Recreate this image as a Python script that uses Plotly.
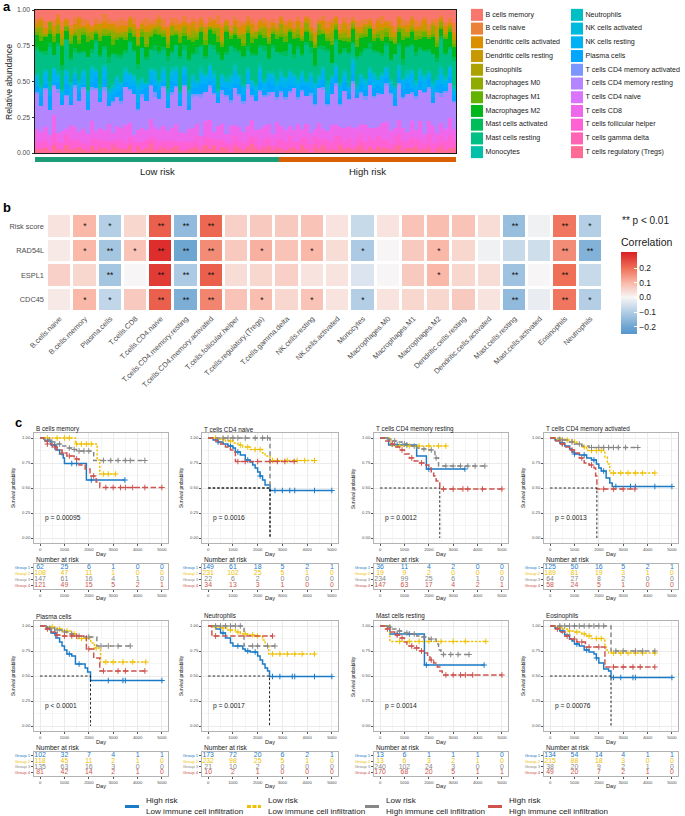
import math
import plotly.graph_objects as go

W, H = 685, 816
FONT = 'Liberation Sans, Arial, sans-serif'

# ---------------- Panel a data (per-sample relative abundance, %) ----------------
RISK_GROUPS = ['Low risk', 'High risk']
RISK_COUNTS = [58, 42]

b_cells_memory = [6,4,9,5,7,3,8,6,10,5, 4,7,6,11,5,8,3,6,9,7,
                  5,8,4,6,12,7,5,9,6,4, 7,10,5,6,8,4,9,6,7,5,
                  8,5,7,3,9,6,11,5,7,8, 4,6,10,7,5,8,6,9,4,7,
                  6,9,5,8,4,7,12,6,5,8, 7,4,9,6,10,5,7,8,6,5,
                  9,6,4,8,7,11,5,6,9,4, 8,7,5,10,6,7,4,8,6,9]
b_cells_naive = [3,2,5,1,4,3,6,2,3,4, 2,5,3,1,4,2,6,3,2,4,
                 5,3,2,4,1,3,5,2,4,3, 6,2,3,5,2,4,1,3,5,2,
                 3,4,2,6,3,1,4,3,5,2, 4,3,6,2,3,5,2,4,1,3,
                 2,5,3,4,2,6,3,2,4,5, 3,1,4,3,5,2,4,6,3,2,
                 4,3,5,2,3,4,1,5,3,2, 6,3,2,4,3,5,2,3,4,7]
dc_activated = [2,1,3,0,2,4,1,2,3,1, 5,2,1,3,2,0,4,2,1,3,
                2,3,1,2,6,1,2,3,0,2, 1,4,2,1,3,2,5,1,2,3,
                0,2,3,1,4,2,1,3,2,5, 1,2,0,3,2,4,1,2,3,1,
                3,1,2,4,1,2,3,0,5,2, 2,3,1,2,4,1,3,2,0,2,
                1,4,2,3,1,2,5,1,3,2, 2,1,3,2,0,4,2,3,1,2]
dc_resting = [1,3,2,0,2,1,4,2,1,3, 2,0,3,1,2,5,1,2,3,1,
              2,1,4,2,0,3,1,2,2,4, 1,2,0,3,2,1,2,4,1,2,
              3,1,2,1,5,2,0,2,3,1, 2,4,1,2,1,3,2,0,2,3,
              1,2,3,1,2,0,4,2,1,2, 3,2,1,4,2,1,0,3,2,1,
              2,3,1,2,4,1,2,0,3,2, 1,2,3,1,2,5,1,2,0,3]
eosinophils = [0,1,0,0,1,0,2,0,0,1, 0,0,1,0,0,1,0,0,2,0,
               1,0,0,1,0,0,0,1,0,0, 0,2,0,0,1,0,0,1,0,0,
               1,0,0,0,1,0,1,0,0,0, 0,1,0,2,0,0,1,0,0,1,
               0,0,1,0,0,1,0,0,1,0, 2,0,0,1,0,0,1,0,0,0,
               0,1,0,0,2,0,0,1,0,1, 0,0,1,0,0,1,0,0,2,0]
macrophages_m0 = [3,5,1,4,2,6,3,1,4,2, 7,3,2,5,1,3,4,2,6,3,
                  2,4,1,3,5,2,8,3,1,4, 3,2,5,1,3,4,2,6,3,2,
                  4,1,3,5,2,3,1,4,2,6, 3,2,4,1,5,3,2,3,7,2,
                  1,4,3,2,5,3,1,4,2,3, 6,2,3,4,1,3,5,2,4,1,
                  3,2,6,3,1,4,2,5,3,2, 4,3,1,2,5,3,4,2,1,3]
macrophages_m1 = [2,3,1,2,4,1,2,3,2,1, 3,2,4,1,2,3,1,2,5,2,
                  1,2,3,2,1,4,2,1,3,2, 2,3,1,2,4,2,1,3,2,1,
                  3,1,2,4,2,1,3,2,1,2, 2,4,1,3,2,2,1,3,2,4,
                  1,2,3,1,2,4,2,3,1,2, 3,2,1,2,3,1,4,2,2,1,
                  2,3,1,4,2,1,2,3,2,1, 3,2,4,1,2,3,1,2,3,2]
macrophages_m2 = [8,6,11,5,9,7,13,6,10,8, 5,12,9,7,4,10,8,14,6,9,
                  11,7,5,9,13,8,6,10,7,12, 8,5,10,7,9,6,13,8,4,10,
                  7,11,9,6,8,14,5,10,8,7, 9,6,12,8,5,10,7,9,11,6,
                  8,12,6,9,7,5,11,8,10,6, 13,7,9,5,8,10,6,12,7,9,
                  6,10,8,5,11,7,9,13,6,8, 10,5,9,7,12,8,6,9,11,7]
mast_activated = [2,1,3,2,0,2,4,1,2,3, 1,2,0,3,2,1,2,4,1,2,
                  3,2,1,2,3,0,2,1,4,2, 2,3,1,0,2,3,1,2,5,1,
                  2,1,3,2,1,2,0,3,2,1, 4,2,1,2,3,1,2,0,2,3,
                  1,3,2,1,2,4,1,2,3,2, 0,2,1,3,2,1,2,3,1,4,
                  2,1,2,3,1,0,2,4,2,1, 3,2,1,2,0,3,2,1,2,3]
mast_resting = [15,20,11,17,9,19,13,22,14,10, 18,12,21,9,16,19,11,17,23,12,
                15,10,19,16,8,21,13,15,11,20, 12,18,9,15,22,11,19,13,17,14,
                9,13,18,21,10,15,20,8,14,18, 11,16,22,12,18,9,15,20,10,14,
                16,12,19,10,24,14,11,17,13,20, 9,15,18,12,21,10,16,14,19,11,
                13,19,10,16,12,22,14,9,17,15, 20,11,16,13,18,10,21,14,12,17]
monocytes = [1,2,1,3,0,2,1,2,1,3, 2,1,0,2,1,3,2,1,2,1,
             0,2,1,1,3,2,1,0,2,1, 2,1,3,1,2,0,1,2,1,3,
             1,2,2,1,0,3,1,2,1,2, 1,0,2,3,1,2,1,1,2,0,
             2,1,3,1,2,1,0,2,1,3, 1,2,1,2,4,1,2,1,0,2,
             1,3,1,2,1,0,2,1,3,1, 2,1,2,0,1,3,1,2,1,2]
neutrophils = [1,0,1,2,0,1,1,0,2,1, 0,1,1,0,2,1,0,1,1,0,
               2,1,0,1,1,2,0,1,0,1, 1,2,0,1,0,1,2,1,0,1,
               1,0,2,1,1,0,1,3,1,0, 1,1,0,2,1,0,1,1,2,1,
               0,1,1,2,0,1,0,1,1,2, 1,0,1,1,0,2,1,0,1,1,
               2,0,1,0,1,1,2,0,1,0, 1,1,0,1,2,0,1,1,0,1]
nk_activated = [2,1,3,0,2,1,2,4,1,0, 2,3,1,2,0,1,3,2,1,2,
                0,2,1,3,2,1,0,2,5,1, 2,1,3,2,0,1,2,3,1,2,
                1,3,2,0,2,1,4,1,2,0, 2,1,3,2,1,0,2,3,1,2,
                3,1,2,1,0,2,3,1,2,4, 1,2,0,3,1,2,1,2,3,1,
                2,0,1,3,2,1,2,0,3,2, 1,3,2,1,2,0,4,1,2,1]
nk_resting = [5,4,7,3,8,5,4,6,9,3, 4,7,5,8,3,5,6,4,5,8,
              3,5,7,4,9,5,3,6,4,5, 7,4,3,8,5,4,6,5,3,7,
              4,8,5,3,6,4,5,10,4,5, 6,3,5,8,4,6,5,3,7,4,
              5,7,4,6,3,8,5,4,7,5, 3,6,9,4,5,7,4,6,3,5,
              6,4,8,5,3,6,5,7,4,9, 5,3,6,4,7,5,8,4,6,3]
plasma_cells = [4,6,3,7,2,5,4,8,3,5, 6,2,5,4,7,3,6,4,5,3,
                7,4,2,6,5,3,8,4,5,6, 3,5,7,2,4,6,3,5,4,7,
                5,3,6,4,2,5,7,3,6,4, 2,5,4,6,3,7,4,5,3,6,
                4,2,5,3,7,4,6,2,5,3, 8,4,3,6,4,5,2,7,4,3,
                5,6,3,4,2,6,4,5,9,3, 4,6,2,5,3,4,7,3,5,4]
cd4_memory_activated = [1,0,2,0,1,3,0,1,0,2, 0,1,0,2,1,0,3,0,1,0,
                        2,0,1,0,1,2,0,1,3,0, 1,0,2,1,0,1,0,2,1,3,
                        0,2,1,0,3,1,2,0,1,2, 3,1,0,2,1,3,0,2,1,2,
                        1,0,2,1,0,2,1,0,3,1, 0,2,1,0,1,2,0,1,2,0,
                        2,1,0,3,1,0,2,1,0,1, 2,0,1,2,0,1,3,1,0,2]
cd4_memory_resting = [24,16,28,13,20,30,18,25,14,26, 21,31,15,23,27,18,29,12,24,19,
                      16,26,21,30,14,23,18,27,19,24, 29,15,21,26,18,31,13,23,19,27,
                      18,24,30,14,21,26,16,28,22,19, 26,15,22,29,18,21,27,16,24,19,
                      22,33,17,25,20,28,15,24,30,18, 23,27,14,26,21,32,19,25,16,28,
                      20,26,18,29,23,15,27,21,31,17, 25,19,28,22,16,30,20,24,26,18]
cd4_naive = [0,0,1,0,0,0,0,1,0,0, 0,0,0,0,1,0,0,0,0,0,
             0,1,0,0,0,0,0,0,1,0, 0,0,0,1,0,0,0,0,0,0,
             1,0,0,0,0,0,1,0,0,0, 0,0,0,0,1,0,0,0,0,1,
             0,0,1,0,0,0,0,0,1,0, 0,1,0,0,0,0,1,0,0,0,
             0,0,0,1,0,0,0,0,0,1, 0,0,1,0,0,0,0,1,0,0]
cd8 = [8,6,10,5,12,7,9,4,11,8, 6,10,7,13,5,9,8,11,6,10,
       7,12,9,5,8,10,6,14,7,9, 11,6,8,12,7,5,9,10,8,6,
       10,13,7,9,11,6,12,8,10,7, 9,11,6,13,8,10,7,12,9,8,
       7,9,12,6,10,8,5,11,9,7, 13,8,6,10,9,12,7,8,11,6,
       9,7,10,14,8,6,11,9,7,10, 8,12,6,9,11,7,10,8,13,7]
tfh = [5,4,6,3,7,5,4,8,5,6, 4,5,3,6,7,4,5,6,3,5,
       6,4,5,7,3,6,5,4,8,5, 4,6,5,3,5,7,4,5,6,4,
       5,7,4,6,5,3,6,8,4,5, 6,5,7,4,5,6,3,5,7,5,
       7,5,6,4,8,6,5,7,4,6, 5,9,6,5,7,4,6,8,5,6,
       6,8,5,7,4,6,9,5,6,7, 5,6,4,8,6,5,7,6,10,5]
gamma_delta = [0,1,0,0,2,0,1,0,0,1, 0,0,1,0,0,2,0,0,1,0,
               1,0,0,0,1,0,0,2,0,0, 1,0,0,0,1,0,0,0,2,0,
               0,1,0,0,0,1,0,0,1,0, 0,0,2,0,1,0,0,1,0,0,
               1,0,0,1,0,0,2,0,0,1, 0,1,0,0,1,0,0,2,0,0,
               0,0,1,0,0,2,0,1,0,0, 1,0,0,1,0,0,1,0,0,2]
tregs = [3,2,4,1,5,3,2,6,3,2, 4,3,1,5,2,3,4,2,6,3,
         2,3,5,1,4,2,3,7,2,3, 4,2,3,5,2,1,3,4,3,2,
         5,3,6,2,4,3,1,5,3,2, 4,6,3,2,3,5,2,4,3,2,
         3,4,2,5,3,1,4,3,6,2, 3,2,5,3,4,2,3,6,2,4,
         2,5,3,4,2,3,6,2,4,3, 5,2,3,4,1,3,5,2,4,3]

CELL_LABELS = ['B cells memory', 'B cells naive', 'Dendritic cells activated', 'Dendritic cells resting',
               'Eosinophils', 'Macrophages M0', 'Macrophages M1', 'Macrophages M2', 'Mast cells activated',
               'Mast cells resting', 'Monocytes', 'Neutrophils', 'NK cells activated', 'NK cells resting',
               'Plasma cells', 'T cells CD4 memory activated', 'T cells CD4 memory resting', 'T cells CD4 naive',
               'T cells CD8', 'T cells follicular helper', 'T cells gamma delta', 'T cells regulatory (Tregs)']
ABUND = [b_cells_memory, b_cells_naive, dc_activated, dc_resting, eosinophils, macrophages_m0, macrophages_m1,
         macrophages_m2, mast_activated, mast_resting, monocytes, neutrophils, nk_activated, nk_resting,
         plasma_cells, cd4_memory_activated, cd4_memory_resting, cd4_naive, cd8, tfh, gamma_delta, tregs]

# ---------------- Panel b data (correlations) ----------------
HM_COLS = ['B.cells.naive', 'B.cells.memory', 'Plasma.cells', 'T.cells.CD8', 'T.cells.CD4.naive',
           'T.cells.CD4.memory.resting', 'T.cells.CD4.memory.activated', 'T.cells.follicular.helper',
           'T.cells.regulatory.(Tregs)', 'T.cells.gamma.delta', 'NK.cells.resting', 'NK.cells.activated',
           'Monocytes', 'Macrophages.M0', 'Macrophages.M1', 'Macrophages.M2', 'Dendritic.cells.resting',
           'Dendritic.cells.activated', 'Mast.cells.resting', 'Mast.cells.activated', 'Eosinophils', 'Neutrophils']
HM_ROWS = ['Risk score', 'RAD54L', 'ESPL1', 'CDC45']
COR_RISK = [0.03, 0.10, -0.10, 0.05, 0.22, -0.15, 0.21, 0.06, 0.07, 0.07, 0.08, 0.03, -0.07, 0.03, 0.08, 0.09, 0.08, 0.04, -0.14, -0.01, 0.19, -0.10]
COR_RAD54L = [0.02, 0.10, -0.12, 0.08, 0.29, -0.20, 0.16, 0.07, 0.11, 0.08, 0.10, 0.04, -0.11, 0.00, 0.07, 0.10, 0.05, -0.01, -0.07, -0.06, 0.16, -0.17]
COR_ESPL1 = [0.06, 0.05, -0.12, 0.00, 0.27, -0.11, 0.22, 0.04, 0.05, 0.06, 0.03, 0.03, -0.04, 0.00, 0.07, 0.10, 0.05, 0.04, -0.13, 0.00, 0.20, -0.07]
COR_CDC45 = [0.02, 0.10, -0.08, 0.07, 0.22, -0.18, 0.17, 0.08, 0.09, 0.05, 0.08, 0.03, -0.10, 0.03, 0.05, 0.05, 0.07, 0.03, -0.15, -0.02, 0.19, -0.10]
SIG_RISK = ['', '*', '*', '', '**', '**', '**', '', '', '', '', '', '', '', '', '', '', '', '**', '', '**', '*']
SIG_RAD54L = ['', '*', '**', '*', '**', '**', '**', '', '*', '', '*', '', '*', '', '', '*', '', '', '', '', '**', '**']
SIG_ESPL1 = ['', '', '**', '', '**', '**', '**', '', '', '', '', '', '', '', '', '*', '', '', '**', '', '**', '']
SIG_CDC45 = ['', '*', '*', '', '**', '**', '**', '', '*', '', '*', '', '*', '', '', '', '', '', '**', '', '**', '*']

# ---------------- Panel c data (Kaplan-Meier steps, censor times, risk tables) ----------------
KM_TITLES = ['B cells memory', 'T cells CD4 naive', 'T cells CD4 memory resting', 'T cells CD4 memory activated',
             'Plasma cells', 'Neutrophils', 'Mast cells resting', 'Eosinophils']
KM_PVALS = ['p = 0.00095', 'p = 0.0016', 'p = 0.0012', 'p = 0.0013', 'p &lt; 0.0001', 'p = 0.0017', 'p = 0.0014', 'p = 0.00076']
GROUP_NAMES = ['Group 1', 'Group 2', 'Group 3', 'Group 4']
LEGEND_LABELS = ['High risk<br>Low immune cell infiltration', 'Low risk<br>Low immune cell infiltration',
                 'Low risk<br>High immune cell infiltration', 'High risk<br>High immune cell infiltration']
RISK_TIMES = [0, 1000, 2000, 3000, 4000, 5000]

BMEM_T = [[0,200,450,650,800,950,1000,1900,3480], [0,1450,2340,2450,3100],
          [0,300,500,700,900,1100,1300,1500,2200,4300],
          [0,150,300,500,700,900,1100,1400,1600,1850,2050,2300,2450,5000]]
BMEM_S = [[1,0.97,0.93,0.88,0.84,0.80,0.745,0.58,0.58], [1,0.94,0.78,0.64,0.64],
          [1,0.98,0.96,0.94,0.92,0.90,0.885,0.87,0.775,0.775],
          [1,0.97,0.94,0.91,0.88,0.85,0.82,0.79,0.73,0.69,0.62,0.56,0.505,0.505]]
BMEM_C = [[600,1300,1500,2100,3480], [300,700,1000,1200,1500,1700,1900,2100,2600,2800,3100],
          [400,800,1200,1400,1600,1800,2000,2600,2900,3200,3500,3700,4300],
          [300,600,900,1200,1500,2200,2700,3000,3300,3500,3800,4300,5000]]
BMEM_RISK = [[62,25,6,1,0,0], [108,47,11,1,0,0], [147,61,16,4,1,0], [121,49,15,5,2,1]]

CD4N_T = [[0,200,400,600,800,1000,1100,1300,1500,1700,1800,1900,2000,2100,2200,2300,2500,5000],
          [0,400,700,1000,1200,1400,1700,2200,2300,2500,4300], [0,2500],
          [0,300,500,700,900,1000,1100,3480]]
CD4N_S = [[1,0.98,0.96,0.94,0.92,0.90,0.86,0.83,0.78,0.76,0.73,0.70,0.66,0.62,0.58,0.53,0.475,0.475],
          [1,0.99,0.97,0.95,0.93,0.91,0.885,0.85,0.82,0.775,0.775], [1,0.5],
          [1,0.97,0.94,0.91,0.88,0.86,0.765,0.765]]
CD4N_C = [[400,900,1200,1600,2100,2700,3000,3300,3500,4300,5000],
          [300,600,900,1300,1600,1900,2100,2600,2800,3200,3600,3900,4300],
          [600,800,1000,1200,1500,1900,2200,2400],
          [1200,1500,2000,2500,2800,3100,3480]]
CD4N_RISK = [[149,61,18,5,2,1], [231,102,25,5,1,0], [22,6,2,0,0,0], [34,13,3,1,0,0]]

CD4MR_T = [[0,350,1500,1900,3480], [0,450,2700],
           [0,300,500,700,900,1100,1300,1500,1700,2000,2250,2400,4300],
           [0,200,400,600,800,1000,1200,1400,1600,1800,2000,2100,2200,2300,2450,5000]]
CD4MR_S = [[1,0.93,0.82,0.69,0.69], [1,0.92,0.92],
           [1,0.99,0.97,0.96,0.94,0.93,0.92,0.90,0.89,0.88,0.80,0.72,0.72],
           [1,0.97,0.94,0.91,0.88,0.84,0.80,0.77,0.75,0.73,0.70,0.66,0.62,0.57,0.49,0.49]]
CD4MR_C = [[700,1100,2000,3480], [800,1200,1600,2000,2400,2700],
           [600,1000,1400,1800,2100,2300,2700,3000,3300,3600,3900,4300],
           [500,900,1300,1700,2600,3000,3400,3600,4200,5000]]
CD4MR_RISK = [[36,11,4,2,0,0], [19,9,2,0,0,0], [234,99,25,6,1,0], [147,63,17,4,2,1]]

CD4MA_T = [[0,200,400,600,800,900,1000,1200,1500,1700,1900,2000,2100,2300,2450,2550,5000],
           [0,300,600,900,1100,1300,1500,2250,2350,2450,4300],
           [0,400,700,1000,1300,1600,3600],
           [0,200,400,600,800,1000,1200,1400,1600,1800,1870,1920,3480]]
CD4MA_S = [[1,0.98,0.95,0.92,0.89,0.86,0.84,0.83,0.80,0.78,0.74,0.70,0.67,0.60,0.55,0.515,0.515],
           [1,0.99,0.98,0.96,0.94,0.91,0.875,0.81,0.74,0.65,0.65],
           [1,0.98,0.96,0.94,0.92,0.905,0.905],
           [1,0.97,0.94,0.91,0.88,0.85,0.80,0.75,0.73,0.70,0.62,0.49,0.49]]
CD4MA_C = [[500,1000,1400,1800,2200,2700,3300,3500,4300,5000],
           [400,700,1000,1400,1700,1900,2100,2600,2900,3200,3500,3800,4300],
           [500,900,1200,1700,2000,2200,2400,2600,2800,3100,3600],
           [500,900,1300,1700,2200,2600,3000,3480]]
CD4MA_RISK = [[125,50,16,5,2,1], [189,81,19,3,1,0], [64,27,8,2,0,0], [58,24,5,1,0,0]]

PLASMA_T = [[0,250,450,650,800,900,1000,1100,1300,1450,1850,1950,2070,5000],
            [0,300,600,900,1300,1500,2080,2230,2480,4340],
            [0,300,600,900,1200,1500,1800,2330,3700],
            [0,200,400,650,900,1900,2200,2450,4300]]
PLASMA_S = [[1,0.97,0.93,0.88,0.84,0.80,0.76,0.72,0.70,0.62,0.58,0.54,0.455,0.455],
            [1,0.99,0.97,0.95,0.92,0.875,0.83,0.78,0.64,0.64],
            [1,0.98,0.96,0.94,0.92,0.90,0.89,0.80,0.80],
            [1,0.97,0.94,0.91,0.90,0.77,0.68,0.55,0.55]]
PLASMA_C = [[600,1200,1600,2800,3400,3500,5000],
            [500,800,1100,1400,1700,1900,2300,2700,3000,3400,3800,4340],
            [400,700,1000,1300,1600,2000,2500,2800,3200,3700],
            [300,700,1000,1300,1500,2000,2600,3200,3500,4300]]
PLASMA_RISK = [[102,32,7,4,1,1], [118,45,11,2,1,0], [135,63,16,3,0,0], [81,42,14,2,1,0]]

NEUT_T = [[0,300,500,700,900,1000,1400,1500,1700,2000,2100,2200,2300,2400,2480,5000],
          [0,250,500,800,1100,1300,1600,1900,2200,2300,2450,4300],
          [0,1450,2700], [0,150,2600]]
NEUT_S = [[1,0.97,0.93,0.88,0.83,0.80,0.77,0.75,0.74,0.70,0.66,0.62,0.58,0.55,0.495,0.495],
          [1,0.99,0.98,0.96,0.94,0.92,0.91,0.90,0.86,0.80,0.72,0.72],
          [1,0.80,0.80], [1,0.90,0.90]]
NEUT_C = [[600,1200,1600,1900,2600,2900,3400,3500,4300,5000],
          [300,600,900,1200,1500,1800,2000,2600,2900,3200,3500,3800,4300],
          [300,500,700,900,1100,1300,1800,2000,2400,2700], [300,2600]]
NEUT_RISK = [[173,72,20,6,2,1], [232,98,25,5,1,0], [21,10,2,0,0,0], [10,2,1,0,0,0]]

MAST_T = [[0,400,1820,4270], [0,400,4340],
          [0,300,500,700,1000,1200,1500,1700,2000,2300,2400,2500,3650],
          [0,200,400,600,800,1000,1100,1400,1600,1800,1950,2050,2200,2350,2450,2550,5000]]
MAST_S = [[1,0.92,0.61,0.61], [1,0.846,0.846],
          [1,0.99,0.97,0.95,0.93,0.92,0.90,0.89,0.87,0.82,0.76,0.715,0.715],
          [1,0.97,0.94,0.91,0.88,0.84,0.80,0.78,0.75,0.73,0.69,0.66,0.63,0.59,0.55,0.51,0.51]]
MAST_C = [[700,1200,1900,4270], [800,1200,1600,2000,2500,3000,3500,4340],
          [400,800,1100,1400,1800,2100,2600,2900,3200,3650],
          [300,700,900,1300,1500,1700,2100,2700,3000,3300,3500,3800,5000]]
MAST_RISK = [[13,6,1,1,1,0], [13,6,3,2,1,0], [240,102,24,3,0,0], [170,68,20,5,1,1]]

EOS_T = [[0,200,400,600,800,900,1000,1200,1400,1600,1800,1900,2000,2200,2400,2500,5000],
         [0,300,500,700,1000,1300,1500,1700,2250,2300,2400,4300],
         [0,2500,4300], [0,200,400,600,800,1100,1450,2250,4300]]
EOS_S = [[1,0.98,0.95,0.91,0.87,0.85,0.82,0.80,0.76,0.74,0.72,0.68,0.63,0.57,0.55,0.485,0.485],
         [1,0.99,0.97,0.95,0.94,0.92,0.90,0.875,0.81,0.76,0.73,0.73],
         [1,0.75,0.75], [1,0.97,0.94,0.90,0.87,0.84,0.79,0.59,0.59]]
EOS_C = [[500,1100,1500,1900,2600,2900,3400,3500,5000],
         [400,800,1100,1400,1600,1900,2100,2600,2900,3200,3500,3800,4300],
         [400,600,800,1000,1200,1400,1600,1800,2000,2200,2700,3000,3500,3800,4300],
         [300,700,1000,1300,1600,2000,2600,3000,3400,3700,4300]]
EOS_RISK = [[134,54,14,4,1,1], [215,88,18,3,0,0], [38,20,9,2,1,0], [49,20,7,2,1,0]]

KM_T = [BMEM_T, CD4N_T, CD4MR_T, CD4MA_T, PLASMA_T, NEUT_T, MAST_T, EOS_T]
KM_S = [BMEM_S, CD4N_S, CD4MR_S, CD4MA_S, PLASMA_S, NEUT_S, MAST_S, EOS_S]
KM_C = [BMEM_C, CD4N_C, CD4MR_C, CD4MA_C, PLASMA_C, NEUT_C, MAST_C, EOS_C]
KM_RISK = [BMEM_RISK, CD4N_RISK, CD4MR_RISK, CD4MA_RISK, PLASMA_RISK, NEUT_RISK, MAST_RISK, EOS_RISK]

# ---------------- styles ----------------
GROUP_COLORS = ['#1A7AC6', '#EFC000', '#868686', '#CD534C']
GROUP_DASH = ['solid', '2.2px,1.6px', '4.5px,3px', '5.5px,2.5px']
RISK_STRIP_COLORS = ['#1B9E77', '#D95F02']


def hcl_hex(h, c=100.0, l=65.0):
    hr = math.radians(h)
    u, v = c * math.cos(hr), c * math.sin(hr)
    Xn, Yn, Zn = 95.047, 100.0, 108.883
    Y = Yn * ((l + 16) / 116) ** 3 if l > 8 else Yn * l / 903.3
    den = Xn + 15 * Yn + 3 * Zn
    un, vn = 4 * Xn / den, 9 * Yn / den
    up, vp = u / (13 * l) + un, v / (13 * l) + vn
    X = Y * 9 * up / (4 * vp)
    Z = Y * (12 - 3 * up - 20 * vp) / (4 * vp)
    X, Y, Z = X / 100, Y / 100, Z / 100
    r = 3.2404542 * X - 1.5371385 * Y - 0.4985314 * Z
    g = -0.9692660 * X + 1.8760108 * Y + 0.0415560 * Z
    b = 0.0556434 * X - 0.2040259 * Y + 1.0572252 * Z

    def gam(t):
        t = min(max(t, 0.0), 1.0)
        return 12.92 * t if t <= 0.0031308 else 1.055 * t ** (1 / 2.4) - 0.055
    return '#%02x%02x%02x' % tuple(int(round(255 * gam(t))) for t in (r, g, b))


NCELL = len(CELL_LABELS)
CELL_COLORS = [hcl_hex(15 + 360.0 * i / NCELL) for i in range(NCELL)]


def fx(px):
    return px / W


def fy(py):
    return 1 - py / H


layout = dict(template='none', width=W, height=H, margin=dict(l=0, r=0, t=0, b=0, pad=0, autoexpand=False),
              paper_bgcolor='white', plot_bgcolor='white',
              font=dict(family=FONT, color='#1A1A1A'), showlegend=False,
              barmode='stack', bargap=0)
annotations = []
shapes = []
fig = go.Figure()


def axkey(n, kind):
    return f'{kind}axis' if n == 1 else f'{kind}axis{n}'


def ref(n, kind):
    return kind if n == 1 else f'{kind}{n}'


def set_axes(n, xpx, ypx, xopts, yopts):
    layout[axkey(n, 'x')] = dict(domain=[fx(xpx[0]), fx(xpx[1])], anchor=ref(n, 'y'), automargin=False, **xopts)
    layout[axkey(n, 'y')] = dict(domain=[fy(ypx[1]), fy(ypx[0])], anchor=ref(n, 'x'), automargin=False, **yopts)


HIDDEN = dict(visible=False, fixedrange=True)


def ann(text, x, y, size, xanchor='center', yanchor='middle', color='#1A1A1A', bold=False, angle=0,
        xref='paper', yref='paper', align='left'):
    if bold:
        text = f'<b>{text}</b>'
    annotations.append(dict(text=text, x=x, y=y, xref=xref, yref=yref, showarrow=False,
                            xanchor=xanchor, yanchor=yanchor, textangle=angle, align=align,
                            font=dict(size=size, color=color, family=FONT)))


# ================= Panel a =================
N = min(len(col) for col in ABUND)
totals = [sum(col[i] for col in ABUND) for i in range(N)]
sample_idx = list(range(N))
for k in reversed(range(NCELL)):
    fig.add_trace(go.Bar(x=sample_idx, y=[ABUND[k][i] / totals[i] for i in range(N)],
                         marker=dict(color=CELL_COLORS[k], line=dict(width=0)),
                         xaxis='x', yaxis='y', hoverinfo='skip', name=CELL_LABELS[k]))
set_axes(1, (35, 456), (10, 153),
         dict(range=[-0.5, N - 0.5], showticklabels=False, ticks='', showgrid=False, zeroline=False,
              showline=True, mirror=True, linecolor='#1A1A1A', linewidth=1),
         dict(range=[0, 1], tickvals=[0, 0.25, 0.5, 0.75, 1], ticktext=['0.00', '0.25', '0.50', '0.75', '1.00'],
              ticks='outside', ticklen=2.5, tickcolor='#333333', tickfont=dict(size=6.8, color='#4D4D4D'),
              showgrid=False, zeroline=False, showline=True, mirror=True, linecolor='#1A1A1A', linewidth=1))
ann('Relative abundance', fx(9), fy(82), 8.6, angle=-90)

# risk strip
strip = []
for gi, cnt in enumerate(RISK_COUNTS):
    strip += [gi] * cnt
strip = strip[:N]
fig.add_trace(go.Heatmap(z=[strip], x=sample_idx[:len(strip)], y=[0], xaxis='x2', yaxis='y2', showscale=False,
                         colorscale=[[0, RISK_STRIP_COLORS[0]], [1, RISK_STRIP_COLORS[1]]],
                         zmin=0, zmax=1, hoverinfo='skip'))
set_axes(2, (35, 456), (157, 162), dict(HIDDEN, range=[-0.5, N - 0.5]), dict(HIDDEN))
start = 0
for gi, cnt in enumerate(RISK_COUNTS):
    center = start + (cnt - 1) / 2
    ann(RISK_GROUPS[gi], center, fy(171), 9.5, xref='x2')
    start += cnt

# legend for panel a
half = NCELL // 2
for col in range(2):
    ids = list(range(col * half, (col + 1) * half))
    fig.add_trace(go.Scatter(x=[col] * len(ids), y=[half - 1 - j for j in range(len(ids))],
                             mode='markers+text', text=[CELL_LABELS[i] for i in ids],
                             textposition='middle right', textfont=dict(size=7.1, color='#1A1A1A'),
                             marker=dict(symbol='square', size=12, color=[CELL_COLORS[i] for i in ids],
                                         line=dict(width=0)),
                             xaxis='x3', yaxis='y3', cliponaxis=False, hoverinfo='skip'))
set_axes(3, (468, 685), (8, 159), dict(HIDDEN, range=[-0.09, 2.08]), dict(HIDDEN, range=[-0.5, half - 0.5]))

# ================= Panel b =================
cor_rows = [COR_RISK, COR_RAD54L, COR_ESPL1, COR_CDC45]
sig_rows = [SIG_RISK, SIG_RAD54L, SIG_ESPL1, SIG_CDC45]
ZMIN, ZMAX = -0.25, 0.31


def pos(v):
    return (v - ZMIN) / (ZMAX - ZMIN)


cscale = [[pos(-0.25), '#5596CC'], [pos(-0.2), '#6EA6D2'], [pos(-0.1), '#B3CEE5'], [pos(0.0), '#F7F5F5'],
          [pos(0.1), '#F9B8A8'], [pos(0.2), '#EF6F57'], [pos(0.31), '#D91E22']]
fig.add_trace(go.Heatmap(z=cor_rows[::-1], x=HM_COLS, y=HM_ROWS[::-1], text=sig_rows[::-1],
                         texttemplate='%{text}', textfont=dict(size=8.5, color='#111111'),
                         colorscale=cscale, zmin=ZMIN, zmax=ZMAX, xgap=3, ygap=3,
                         xaxis='x4', yaxis='y4', hoverinfo='skip',
                         colorbar=dict(x=fx(621), xanchor='left', y=fy(334), yanchor='bottom',
                                       len=(334 - 235) / H, lenmode='fraction', thickness=16, outlinewidth=0,
                                       xpad=0, ypad=0,
                                       tickvals=[-0.2, -0.1, 0, 0.1, 0.2],
                                       ticktext=['\u22120.2', '\u22120.1', '0.0', '0.1', '0.2'],
                                       ticks='inside', ticklen=3, tickcolor='white',
                                       tickfont=dict(size=8.5, color='#1A1A1A'),
                                       title=dict(text='Correlation', side='top',
                                                  font=dict(size=10.5, color='#1A1A1A')))))
set_axes(4, (47, 603), (214, 312),
         dict(tickangle=-45, tickfont=dict(size=7.4, color='#4D4D4D'), ticks='', showgrid=False,
              zeroline=False, showline=False),
         dict(tickfont=dict(size=7.4, color='#4D4D4D'), ticks='', showgrid=False, zeroline=False,
              showline=False, ticksuffix=' '))
ann('** p &lt; 0.01', fx(620), fy(221), 10, xanchor='left')

# ================= Panel c =================
COL_L = [34, 202, 374, 544]
COL_R = [168, 338, 508, 678]
KM_TOP = [433, 621]
KM_BOT = [543, 731]
TAB_TOP = [564, 752]
TAB_BOT = [589, 776]
TITLE_Y = [429, 616]
DAY1_Y = [554, 742]
NAR_Y = [559, 747]
DAY2_Y = [598, 786]

GRID = '#EBEBEB'
BOX = '#B3B3B3'


def surv_at(T, S, t):
    val = S[0]
    for ti, si in zip(T, S):
        if ti <= t:
            val = si
    return val


for p in range(8):
    r, c = divmod(p, 4)
    n = 5 + 2 * p
    nt = n + 1
    xa, ya = ref(n, 'x'), ref(n, 'y')
    for g in range(4):
        T, S, C = KM_T[p][g], KM_S[p][g], KM_C[p][g]
        fig.add_trace(go.Scatter(x=T, y=S, mode='lines',
                                 line=dict(shape='hv', color=GROUP_COLORS[g], width=1.45, dash=GROUP_DASH[g]),
                                 xaxis=xa, yaxis=ya, hoverinfo='skip'))
        fig.add_trace(go.Scatter(x=C, y=[surv_at(T, S, t) for t in C], mode='markers',
                                 marker=dict(symbol='cross-thin', size=4, color=GROUP_COLORS[g],
                                             line=dict(color=GROUP_COLORS[g], width=1)),
                                 xaxis=xa, yaxis=ya, hoverinfo='skip'))
    # median survival lines
    for g in range(4):
        T, S = KM_T[p][g], KM_S[p][g]
        med = next((t for t, s in zip(T, S) if s <= 0.5), None)
        if med is not None:
            fig.add_trace(go.Scatter(x=[0, med, med], y=[0.5, 0.5, 0], mode='lines',
                                     line=dict(color='#111111', width=0.9, dash='2.5px,2px'),
                                     xaxis=xa, yaxis=ya, hoverinfo='skip'))
    common_x = dict(range=[-250, 5250], tickvals=[0, 1000, 2000, 3000, 4000, 5000],
                    ticks='outside', ticklen=2, tickcolor='#555555', tickwidth=0.6,
                    tickfont=dict(size=4.2, color='#4D4D4D'), zeroline=False,
                    showline=True, mirror=True, linecolor=BOX, linewidth=0.8)
    set_axes(n, (COL_L[c], COL_R[c]), (KM_TOP[r], KM_BOT[r]),
             dict(common_x, showgrid=True, gridcolor=GRID, gridwidth=0.6,
                  minor=dict(dtick=500, showgrid=True, gridcolor='#F5F5F5', gridwidth=0.4)),
             dict(range=[-0.05, 1.05], tickvals=[0, 0.25, 0.5, 0.75, 1],
                  ticktext=['0.00', '0.25', '0.50', '0.75', '1.00'],
                  ticks='outside', ticklen=2, tickcolor='#555555', tickwidth=0.6,
                  tickfont=dict(size=4.2, color='#4D4D4D'), zeroline=False,
                  showgrid=True, gridcolor=GRID, gridwidth=0.6,
                  minor=dict(dtick=0.125, tick0=0, showgrid=True, gridcolor='#F5F5F5', gridwidth=0.4),
                  showline=True, mirror=True, linecolor=BOX, linewidth=0.8))
    # risk table
    xs, ys, txt, cols = [], [], [], []
    for g in range(4):
        for ti, t in enumerate(RISK_TIMES):
            xs.append(t)
            ys.append(g)
            txt.append(str(KM_RISK[p][g][ti]))
            cols.append(GROUP_COLORS[g])
    fig.add_trace(go.Scatter(x=xs, y=ys, mode='text', text=txt,
                             textfont=dict(size=6.9, color=cols, family=FONT),
                             xaxis=ref(nt, 'x'), yaxis=ref(nt, 'y'), hoverinfo='skip', cliponaxis=False))
    set_axes(nt, (COL_L[c], COL_R[c]), (TAB_TOP[r], TAB_BOT[r]),
             dict(common_x, showgrid=False),
             dict(range=[3.55, -0.55], tickvals=[0, 1, 2, 3],
                  ticktext=[f'<span style="color:{GROUP_COLORS[g]}">{GROUP_NAMES[g]}</span>' for g in range(4)],
                  ticks='outside', ticklen=2, tickcolor='#555555', tickwidth=0.6,
                  tickfont=dict(size=4.3), showgrid=False, zeroline=False,
                  showline=True, mirror=True, linecolor=BOX, linewidth=0.8))
    # texts
    mid = (COL_L[c] + COL_R[c]) / 2
    ann(KM_TITLES[p], fx(COL_L[c]), fy(TITLE_Y[r]), 6.3, xanchor='left')
    ann(KM_PVALS[p], 100, 0.2, 6.7, xanchor='left', xref=xa, yref=ya)
    ann('Day', fx(mid), fy(DAY1_Y[r]), 5.6)
    ann('Number at risk', fx(COL_L[c]), fy(NAR_Y[r]), 6.6, xanchor='left')
    ann('Day', fx(mid), fy(DAY2_Y[r]), 5.6)
    ann('Survival probability', fx(COL_L[c] - 21), fy((KM_TOP[r] + KM_BOT[r]) / 2), 4.8, angle=-90)

# bottom legend
LEG_X = [125, 247, 365, 488]
for g in range(4):
    shapes.append(dict(type='line', xref='paper', yref='paper', x0=fx(LEG_X[g]), x1=fx(LEG_X[g] + 14),
                       y0=fy(806.5), y1=fy(806.5),
                       line=dict(color=GROUP_COLORS[g], width=3, dash='solid' if g != 1 else '4px,1.5px')))
    ann(LEGEND_LABELS[g], fx(LEG_X[g] + 19), fy(806), 8.1, xanchor='left')

# panel labels
ann('a', fx(1), fy(7), 13, xanchor='left', bold=True, color='black')
ann('b', fx(1), fy(207), 13, xanchor='left', bold=True, color='black')
ann('c', fx(13), fy(422), 13, xanchor='left', bold=True, color='black')

layout['annotations'] = annotations
layout['shapes'] = shapes
fig.update_layout(**layout)
fig.write_html('out.html', config={'displayModeBar': False},
               post_script="document.body.style.margin='0';document.body.style.padding='0';")
